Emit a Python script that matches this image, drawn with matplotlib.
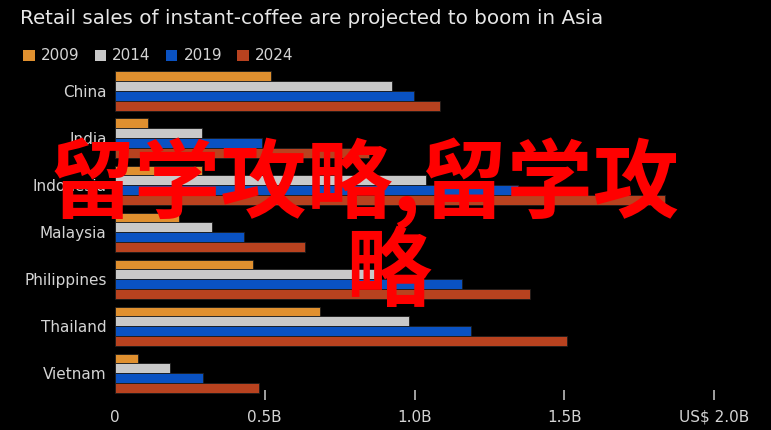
import numpy as np
from matplotlib import pyplot as plt
from matplotlib.patches import Patch

countries = ["China", "India", "Indonesia", "Malaysia", "Philippines", "Thailand", "Vietnam"]
years = ["2009", "2014", "2019", "2024"]
# retail sales, billions of US$
sales_2009 = [0.52, 0.11, 0.29, 0.215, 0.462, 0.685, 0.076]
sales_2014 = [0.924, 0.292, 1.04, 0.325, 0.87, 0.98, 0.184]
sales_2019 = [0.997, 0.492, 1.345, 0.431, 1.157, 1.19, 0.295]
sales_2024 = [1.085, 0.847, 1.837, 0.633, 1.387, 1.51, 0.482]
tick_vals = [0, 0.5, 1.0, 1.5, 2.0]
tick_labels = ["0", "0.5B", "1.0B", "1.5B", "US$ 2.0B"]

colors = ["#e0902f", "#c9c9c9", "#0a52c2", "#b8421f"]
W, H = 771, 430
bg = "black"
txt = "#d4d4d4"

def fx(x):
    return x / W

def fy(y):
    return 1 - y / H

fig = plt.figure(figsize=(W / 100, H / 100), dpi=100, facecolor=bg)
ax = fig.add_axes([fx(115), fy(400), (714 - 115) / W, (400 - 67.5) / H])
ax.set_facecolor(bg)

bh = 0.2075
y = np.arange(len(countries))
series = [sales_2009, sales_2014, sales_2019, sales_2024]
for i, vals in enumerate(series):
    ax.barh(y + (i - 1.5) * bh, vals, height=bh, color=colors[i],
            edgecolor="#1c1c1c", linewidth=0.6)

ax.set_xlim(0, 2.0)
ax.set_ylim(6.574, -0.5)
ax.set_yticks(y)
ax.set_yticklabels(countries, fontsize=11, color=txt)
ax.set_xticks(tick_vals)
ax.set_xticklabels(tick_labels, fontsize=11, color=txt)
ax.tick_params(axis="y", length=0, pad=6)
ax.tick_params(axis="x", direction="in", length=7, width=1.2, color="#bdbdbd", pad=7)
ax.xaxis.get_major_ticks()[0].tick1line.set_visible(False)
for s in ax.spines.values():
    s.set_visible(False)

fig.text(fx(20), fy(18), "Retail sales of instant-coffee are projected to boom in Asia",
         fontsize=14.3, color="#e6e6e6", va="center", ha="left")

handles = [Patch(facecolor=c, edgecolor="none") for c in colors]
fig.legend(handles, years, loc="center left", bbox_to_anchor=(fx(17), fy(56)),
           ncol=4, frameon=False, fontsize=11, labelcolor=txt,
           handlelength=0.75, handleheight=0.75, handletextpad=0.4,
           columnspacing=1.0, borderaxespad=0)

red_font = ["Noto Sans CJK SC", "DejaVu Sans"]
fig.text(fx(49), fy(184), "留学攻略,留学攻", fontsize=62, fontweight="bold",
         color="#ff0000", family=red_font, ha="left", va="center")
fig.text(fx(388), fy(274), "略", fontsize=62, fontweight="bold",
         color="#ff0000", family=red_font, ha="center", va="center")

fig.savefig("out.png", dpi=100, facecolor=bg)
